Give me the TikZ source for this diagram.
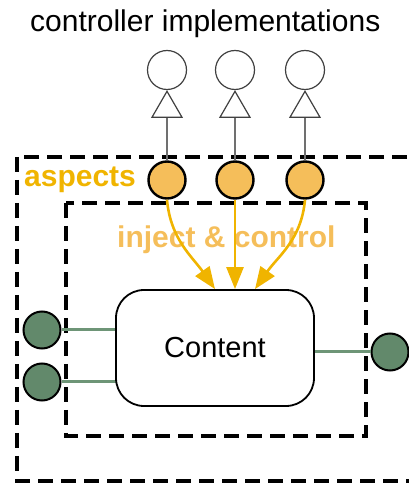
\documentclass[tikz,border=0pt]{standalone}
\usepackage{fontspec}
\setmainfont{Liberation Sans}
\usetikzlibrary{arrows.meta,shapes.geometric,calc}
\definecolor{aspectgold}{HTML}{F0B400}
\definecolor{aspectfill}{HTML}{F5BE5A}
\definecolor{portgreen}{HTML}{62896B}
\definecolor{wiregreen}{HTML}{6E9577}
\definecolor{stemgray}{HTML}{707070}
\begin{document}
\begin{tikzpicture}[x=1pt, y=1pt,
  font=\fontsize{30}{34}\selectfont,
  box/.style={draw=black, line width=4pt, dash pattern=on 15pt off 8pt},
  impl/.style={circle, draw=black!75, line width=1.2pt, fill=white, minimum size=39pt, inner sep=0pt},
  tri/.style={regular polygon, regular polygon sides=3, draw=black!75, line width=1.2pt, fill=white, minimum size=34.6pt, inner sep=0pt},
  stem/.style={draw=stemgray, line width=1.8pt},
  aspect/.style={circle, draw=black, line width=2.4pt, fill=aspectfill, minimum size=37pt, inner sep=0pt},
  port/.style={circle, draw=black, line width=2pt, fill=portgreen, minimum size=37pt, inner sep=0pt},
  wire/.style={draw=wiregreen, line width=3pt},
  inject/.style={draw=aspectgold, line width=2.6pt, -{Triangle[length=22pt, width=17pt]}},
  content/.style={draw=black, line width=1.8pt, fill=white, rounded corners=28pt, minimum width=198pt, minimum height=116pt, font=\fontsize{29}{33}\selectfont}
]
\def \xa {167}
\def \xb {235}
\def \xc {305}

\def \yimpl {413}
\def \yasp {303}

\useasboundingbox (0,0) rectangle (409,483);
\clip (0,0) rectangle (409,483);

% title
\node[anchor=base west, inner sep=0pt] (title) at (30,451) {controller implementations};

% membranes
\draw[box] (17,326) rectangle (440,2);
\draw[box] (66,280) rectangle (366,47);

% controller implementations
\node[impl] (i1) at (\xa, \yimpl) {};
\node[impl] (i2) at (\xb, \yimpl) {};
\node[impl] (i3) at (\xc, \yimpl) {};
\node[tri, anchor=corner 1] (t1) at (i1.south) {};
\node[tri, anchor=corner 1] (t2) at (i2.south) {};
\node[tri, anchor=corner 1] (t3) at (i3.south) {};

% aspects
\node[aspect] (a1) at (\xa, \yasp) {};
\node[aspect] (a2) at (\xb, \yasp) {};
\node[aspect] (a3) at (\xc, \yasp) {};
\draw[stem] (t1.south) -- (a1.north);
\draw[stem] (t2.south) -- (a2.north);
\draw[stem] (t3.south) -- (a3.north);

\node[anchor=base west, inner sep=0pt, text=aspectgold, font=\fontsize{30}{34}\selectfont\bfseries] (asp) at (24,296) {aspects};
\node[anchor=base west, inner sep=0pt, text=aspectfill, font=\fontsize{30}{34}\selectfont\bfseries] (ctl) at (117,235) {inject \& control};

% ports
\node[port] (p1) at (42,153) {};
\node[port] (p2) at (42,101) {};
\node[port] (p3) at (390,131) {};
\draw[wire] (p1.east) -- (116,153);
\draw[wire] (p2.east) -- (116,101);
\draw[wire] (p3.west) -- (314,131);

% content
\node[content] (content) at (215,135) {Content};

\draw[inject] (a1.south) to[out=-85, in=125] (content.north);
\draw[inject] (a2.south) -- (a2.south |- content.north);
\draw[inject] (a3.south) to[out=-95, in=55] ($(content.north)+(40,0)$);
\end{tikzpicture}
\end{document}
